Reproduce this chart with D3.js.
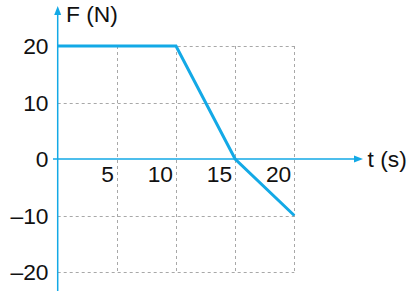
<!DOCTYPE html>
<html><head><meta charset="utf-8">
<script src="https://cdn.jsdelivr.net/npm/d3@7"></script>
<style>body{margin:0;background:#fff}svg{display:block}text{font-family:"Liberation Sans",Arial,sans-serif;fill:#111}</style>
</head><body><svg id="c" width="409" height="295"></svg>
<script>
const tValues = [0, 10, 15, 20];
const fValues = [20, 20, 0, -10];
const xTicks = [5, 10, 15, 20];
const yTicks = [20, 10, 0, -10, -20];
const yTickLabels = ["20", "10", "0", "\u201310", "\u201320"];
const xLabel = "t (s)";
const yLabel = "F (N)";

const blue = "#13a9e6";
const svg = d3.select("#c");
const x = d3.scaleLinear().domain([0, 20]).range([57.7, 294.3]);
const y = d3.scaleLinear().domain([-20, 20]).range([272, 46]);

// grid
const g = svg.append("g").attr("stroke", "#a8a8a8").attr("stroke-width", 1).attr("stroke-dasharray", "3,3").attr("fill", "none");
yTicks.forEach(v => { if (v !== 0) g.append("line").attr("x1", x(0)).attr("x2", x(20)).attr("y1", Math.round(y(v)) + 0.5).attr("y2", Math.round(y(v)) + 0.5); });
xTicks.forEach(v => g.append("line").attr("x1", Math.round(x(v)) + 0.5).attr("x2", Math.round(x(v)) + 0.5).attr("y1", y(20)).attr("y2", y(-20)));

// axes
const ax = svg.append("g").attr("stroke", blue).attr("stroke-width", 1.5);
ax.append("line").attr("x1", 53).attr("x2", 358).attr("y1", y(0)).attr("y2", y(0));
ax.append("line").attr("x1", x(0)).attr("x2", x(0)).attr("y1", 291).attr("y2", 11);
svg.append("path").attr("fill", blue).attr("d", `M${x(0)},6 L${x(0)-3.5},15 L${x(0)+3.5},15 Z`);
svg.append("path").attr("fill", blue).attr("d", `M363,${y(0)} L354,${y(0)-3.5} L354,${y(0)+3.5} Z`);

// data line
svg.append("path").datum(tValues.map((t, i) => [t, fValues[i]]))
  .attr("fill", "none").attr("stroke", blue).attr("stroke-width", 3).attr("stroke-linejoin", "miter")
  .attr("d", d3.line().x(d => x(d[0])).y(d => y(d[1])));

// labels
const fs = 22.8;
yTicks.forEach((v, i) => svg.append("text").attr("x", 48.5).attr("y", y(v)).attr("dy", "0.36em").attr("text-anchor", "end").attr("font-size", fs).text(yTickLabels[i]));
xTicks.forEach(v => svg.append("text").attr("x", x(v) - 3).attr("y", 182).attr("text-anchor", "end").attr("font-size", fs).text(v));
svg.append("text").attr("x", 66).attr("y", 22).attr("font-size", fs).text(yLabel);
svg.append("text").attr("x", 367.5).attr("y", y(0)).attr("dy", "0.36em").attr("font-size", fs).text(xLabel);
</script></body></html>
